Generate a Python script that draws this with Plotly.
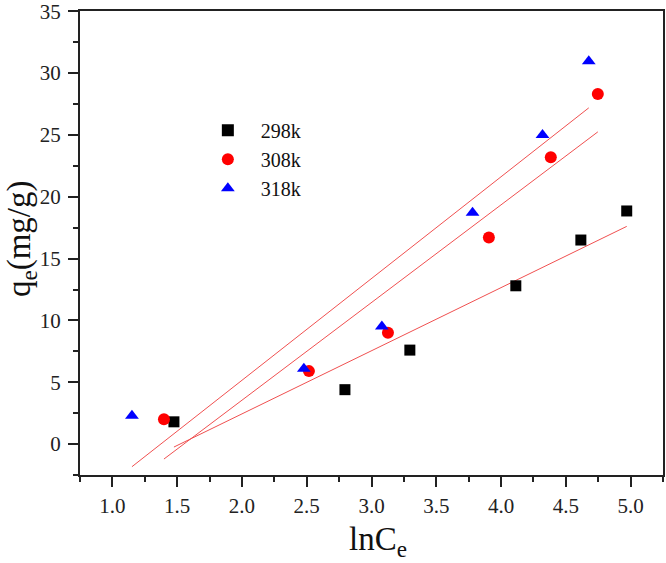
import numpy as np
import plotly.graph_objects as go

x298 = [1.475, 2.795, 3.296, 4.114, 4.616, 4.970]
y298 = [1.8, 4.4, 7.6, 12.8, 16.5, 18.85]
x308 = [1.398, 2.517, 3.127, 3.906, 4.384, 4.747]
y308 = [2.0, 5.9, 9.0, 16.7, 23.2, 28.3]
x318 = [1.151, 2.478, 3.080, 3.780, 4.320, 4.677]
y318 = [2.3, 6.1, 9.5, 18.7, 25.0, 30.95]

series = [
    ("298k", x298, y298, "square", "black", 11),
    ("308k", x308, y308, "circle", "red", 12),
    ("318k", x318, y318, "triangle-up", "blue", 12),
]

SERIF = "Liberation Serif, Times New Roman, serif"
AX = "#222222"

fig = go.Figure()
for name, xs, ys, sym, col, sz in series:
    k, b = np.polyfit(xs, ys, 1)
    xl = np.array([min(xs), max(xs)])
    fig.add_trace(go.Scatter(x=xl, y=k * xl + b, mode="lines",
                             line=dict(color="#f05050", width=1),
                             showlegend=False, hoverinfo="skip"))
for name, xs, ys, sym, col, sz in series:
    fig.add_trace(go.Scatter(x=xs, y=ys, mode="markers", name=name,
                             marker=dict(symbol=sym, color=col, size=sz,
                                         line=dict(width=0))))

axis_common = dict(showgrid=False, zeroline=False, showline=True, mirror=True,
                   linecolor=AX, linewidth=2, ticks="outside",
                   tickcolor=AX, tickwidth=1.5, ticklen=10, automargin=False,
                   ticklabeloverflow="allow",
                   tickfont=dict(family=SERIF, size=21, color="#222"))

fig.update_xaxes(range=[0.75, 5.25], dtick=0.5, tick0=0, tickformat=".1f",
                 ticklabelstandoff=1,
                 minor=dict(dtick=0.25, ticks="outside", ticklen=5, tickcolor=AX, tickwidth=1.5),
                 **axis_common)
fig.update_yaxes(range=[-2.5, 35.02], dtick=5, tick0=0,
                 ticklabelstandoff=3,
                 minor=dict(dtick=2.5, ticks="outside", ticklen=5, tickcolor=AX, tickwidth=1.5),
                 **axis_common)

# axis titles placed as annotations (paper coords of the plot area)
fig.add_annotation(text="lnC<sub>e</sub>", xref="paper", yref="paper",
                   x=0.511, y=-0.143, xanchor="center", yanchor="middle",
                   showarrow=False, font=dict(family=SERIF, size=33, color="#111"))
fig.add_annotation(text="q<sub>e</sub>(mg/g)", xref="paper", yref="paper",
                   x=-0.1, y=0.51, xanchor="center", yanchor="middle", textangle=-90,
                   showarrow=False, font=dict(family=SERIF, size=33, color="#111"))

fig.update_layout(
    width=666, height=563,
    font=dict(family=SERIF),
    margin=dict(l=80, r=3, t=11, b=88),
    plot_bgcolor="white", paper_bgcolor="white",
    legend=dict(x=0.197, y=0.785, xanchor="left", yanchor="top",
                font=dict(family=SERIF, size=20, color="#111"),
                bgcolor="rgba(0,0,0,0)", tracegroupgap=0, itemsizing="constant",
                itemwidth=56),
)

fig.write_html("out.html", config={"displayModeBar": False},
               post_script="document.body.style.margin='0';document.body.style.overflow='hidden';")
